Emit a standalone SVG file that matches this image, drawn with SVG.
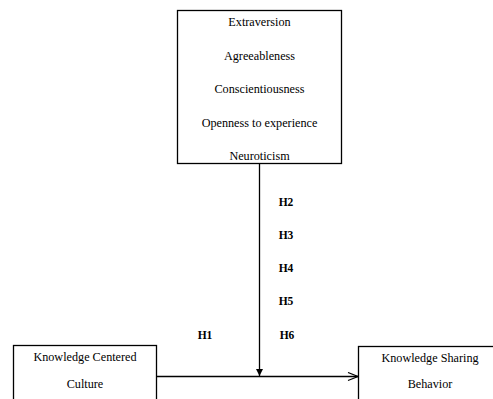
<svg xmlns="http://www.w3.org/2000/svg" width="493" height="399" viewBox="0 0 493 399">
<style>
.box{fill:#fff;stroke:#000;stroke-width:1.3}
.t{font-family:"Liberation Serif","Times New Roman",serif;font-size:12.2px;fill:#000;text-anchor:middle}
.h{font-family:"Liberation Serif","Times New Roman",serif;font-size:11.5px;font-weight:bold;fill:#000;text-anchor:middle}
.ln{stroke:#000;stroke-width:1.3;fill:none}
</style>
<defs>
<marker id="open" markerWidth="12" markerHeight="10" refX="11" refY="5" orient="auto" markerUnits="userSpaceOnUse">
<path d="M1,1 L11,5 L1,9" fill="none" stroke="#000" stroke-width="1.2"/>
</marker>
<marker id="fill" markerWidth="8" markerHeight="8" refX="7" refY="4" orient="auto" markerUnits="userSpaceOnUse">
<path d="M0,0.5 L7,4 L0,7.5 Z" fill="#000"/>
</marker>
</defs>
<rect width="493" height="399" fill="#fff"/>
<g id="traits">
<rect class="box" x="177.5" y="10.5" width="164" height="153"/>
<text class="t" x="259.5" y="26">Extraversion</text>
<text class="t" x="259.5" y="59.5">Agreeableness</text>
<text class="t" x="259.5" y="93">Conscientiousness</text>
<text class="t" x="259.5" y="126.5">Openness to experience</text>
<text class="t" x="259.5" y="160">Neuroticism</text>
</g>
<g id="kcc">
<rect class="box" x="13.5" y="345.5" width="143" height="60"/>
<text class="t" x="85" y="361">Knowledge Centered</text>
<text class="t" x="85" y="388">Culture</text>
</g>
<g id="ksb">
<rect class="box" x="358.5" y="346.5" width="140" height="60"/>
<text class="t" x="430" y="362">Knowledge Sharing</text>
<text class="t" x="430" y="388">Behavior</text>
</g>
<g id="connectors">
<line class="ln" x1="259.5" y1="163.5" x2="259.5" y2="376" marker-end="url(#fill)"/>
<line class="ln" x1="156.5" y1="376.5" x2="358" y2="376.5" marker-end="url(#open)"/>
</g>
<g id="labels">
<text class="h" x="286" y="206">H2</text>
<text class="h" x="286" y="239">H3</text>
<text class="h" x="286" y="272">H4</text>
<text class="h" x="286" y="305">H5</text>
<text class="h" x="287" y="339">H6</text>
<text class="h" x="205" y="339">H1</text>
</g>
</svg>
